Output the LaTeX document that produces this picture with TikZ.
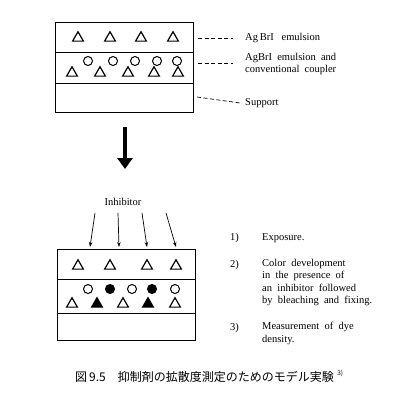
\documentclass[tikz,border=0pt]{standalone}
\usepackage{fontspec}
\setmainfont{Liberation Serif}
\newfontfamily\cjk{Noto Sans CJK JP}
\usetikzlibrary{positioning,arrows.meta,shapes.geometric}
\tikzset{
  >=Stealth,
  layer/.style={draw, line width=1.2pt, minimum width=138pt, anchor=north west, inner sep=0pt},
  tri/.style={regular polygon, regular polygon sides=3, draw, line width=1.2pt, minimum size=12.5pt, inner sep=0pt},
  ftri/.style={tri, fill=black},
  dot/.style={circle, draw, line width=1pt, minimum size=9pt, inner sep=0pt},
  fdot/.style={dot, fill=black},
  lbl/.style={font=\fontsize{10.5}{12.5}\selectfont, inner sep=1pt, anchor=west},
  leader/.style={dash pattern=on 4pt off 2.5pt, line width=0.7pt},
}

\begin{document}
\begin{tikzpicture}[x=1pt, y=-1pt]
\useasboundingbox (0,0) rectangle (401,404);

% film before exposure
\node[layer, minimum height=30pt] (L1) at (55,22) {};
\node[layer, minimum height=31pt] (L2) at (55,52) {};
\node[layer, minimum height=29pt] (L3) at (55,83) {};
\foreach \x [count=\i] in {78,110,141,173}
  \node[tri] (ta\i) at (\x,38) {};
\foreach \x [count=\i] in {88,113,135,157,177}
  \node[dot] (ca\i) at (\x,61) {};
\foreach \x [count=\i] in {72,100,128,154,178}
  \node[tri] (tb\i) at (\x,73) {};

\node[lbl] (agbr) at (244,38) {Ag\,BrI\ \ \ emulsion};
\node[lbl, align=left] (coupler) at (244,64) {AgBrI\ \ emulsion\ \ and\\conventional\ \ coupler};
\node[lbl] (support) at (244,103) {Support};
\coordinate (d1) at (198,38);
\coordinate (d2) at (198,63);
\coordinate (d3) at (197,97);
\draw[leader] (d1) -- ([xshift=-11pt]agbr.west);
\draw[leader] (d2) -- ([xshift=-11pt]coupler.west |- d2);
\draw[leader] (d3) -- ([xshift=-4pt]support.west);

% big arrow
\coordinate (a1) at (125,127);
\coordinate (a2) at (125,169);
\draw[line width=3.6pt, -{Triangle[length=11pt, width=15pt]}] (a1) -- (a2);

% inhibitor
\node[lbl, anchor=center] (inh) at (123,202) {Inhibitor};
\foreach \xa/\xb [count=\i] in {95/90,118/119,142/147,166/176}{
  \coordinate (s\i) at (\xa,213);
  \coordinate (e\i) at (\xb,247);
  \draw[->, line width=0.7pt, >={Stealth[length=5pt, width=3.5pt]}] (s\i) -- (e\i);
}

% film after development
\node[layer, minimum height=30pt] (M1) at (57,249) {};
\node[layer, minimum height=34pt] (M2) at (57,279) {};
\node[layer, minimum height=27pt] (M3) at (57,313) {};
\foreach \x [count=\i] in {78,110,147,176}
  \node[tri] (tc\i) at (\x,266) {};
\node[dot] (cb1) at (88,289) {};
\node[fdot] (cb2) at (110,289) {};
\node[dot] (cb3) at (132,289) {};
\node[fdot] (cb4) at (152,289) {};
\node[dot] (cb5) at (175,289) {};
\node[tri] (td1) at (72,304) {};
\node[ftri] (td2) at (97,304) {};
\node[tri] (td3) at (123,304) {};
\node[ftri] (td4) at (148,304) {};
\node[tri] (td5) at (175,304) {};

% steps
\node[lbl] (n1) at (229,238) {1)};
\node[lbl] (st1) at (261,238) {Exposure.};
\node[lbl] (n2) at (229,265) {2)};
\node[lbl, align=left, anchor=north west] (st2) at (261,258) {Color\ \ development\\in\ \ the\ \ presence\ \ of\\an\ \ inhibitor\ \ followed\\by\ \ bleaching\ \ and\ \ fixing.};
\node[lbl] (n3) at (229,328) {3)};
\node[lbl, align=left, anchor=north west] (st3) at (261,321) {Measurement\ \ of\ \ dye\\density.};

% caption
\node[anchor=west, inner sep=0pt, font=\cjk\fontsize{12}{14}\selectfont] (cap) at (75,377) {図\,9.5\quad 抑制剤の拡散度測定のためのモデル実験};
\node[anchor=west, inner sep=0pt, font=\cjk\fontsize{6.5}{8}\selectfont] (ref) at ([xshift=3pt, yshift=4pt]cap.east) {3)};
\end{tikzpicture}
\end{document}
